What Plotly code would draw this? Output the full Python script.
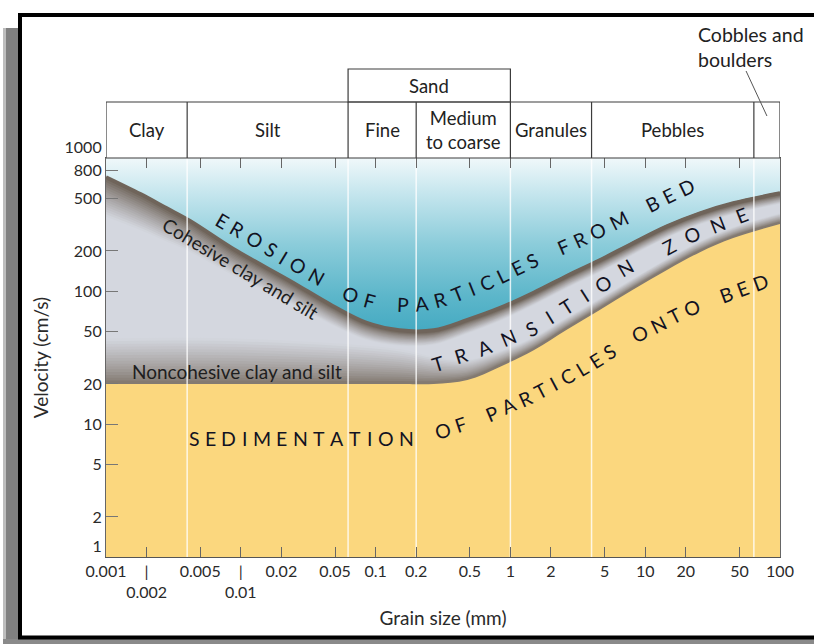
import math
import numpy as np
import plotly.graph_objects as go

# ---------------- data ----------------
grain_erosion = [0.001, 0.0018, 0.0028, 0.0042, 0.0088, 0.023, 0.048, 0.086, 0.15, 0.27,
                 0.48, 0.84, 1.5, 2.6, 4.6, 8.1, 14.5, 25.5, 45, 100]
vel_erosion = [733, 546, 428, 342, 210, 121, 78, 58, 51, 51,
               61, 75, 98, 130, 171, 230, 308, 386, 459, 546]

grain_deposit = [0.001, 0.01, 0.15, 0.27, 0.48, 0.84, 1.5, 2.6, 4.6,
                 8.1, 14.5, 25.5, 45, 100]
vel_deposit = [20, 20, 20, 20, 21.4, 27, 36, 51, 72,
               102, 144, 196, 250, 319]

class_bounds = [0.001, 0.004, 0.0625, 0.2, 1, 4, 64, 100]
class_labels = ["Clay", "Silt", "Fine", "Medium<br>to coarse", "Granules", "Pebbles", ""]
sand_bounds = [0.0625, 1]
sand_label = "Sand"
divider_bounds = [0.004, 0.0625, 0.2, 1, 4, 64]

x_tickvals = [0.001, 0.002, 0.005, 0.01, 0.02, 0.05, 0.1, 0.2, 0.5, 1, 2, 5, 10, 20, 50, 100]
x_ticktext = ["0.001", "|<br>0.002", "0.005", "|<br>0.01", "0.02", "0.05", "0.1", "0.2",
              "0.5", "1", "2", "5", "10", "20", "50", "100"]
y_tickvals = [1, 2, 5, 10, 20, 50, 100, 200, 500, 800, 1000]
y_ticktext = ["1<br> ", "2", "5", "10", "20", "50", "100", "200", "500", "800", "1000<br> "]

# ---------------- layout geometry ----------------
W, H = 814, 644
ML, MR, MT, MB = 106, 34, 158, 87
PW = W - ML - MR
PH = H - MT - MB
XR = (-3, 2)
YR = (0, 3)
FONT = "Lato"

def shift(v, dpx):
    """move a velocity value up (dpx>0) or down (dpx<0) by dpx screen pixels"""
    return v * 10 ** (dpx * (YR[1] - YR[0]) / PH)

def mix(c1, c2, t):
    return "rgb(%d,%d,%d)" % tuple(round(a + (b - a) * t) for a, b in zip(c1, c2))

def ppx(px):
    return (px - ML) / PW

def ppy(py):
    return (MT + PH - py) / PH

fig = go.Figure()

# erosion region (gradient, above the erosion curve)
fig.add_trace(go.Scatter(x=grain_erosion, y=[1000] * len(grain_erosion), mode="lines",
                         line=dict(width=0, color="rgba(0,0,0,0)"), hoverinfo="skip", showlegend=False))
fig.add_trace(go.Scatter(
    x=grain_erosion, y=vel_erosion, mode="lines", fill="tonexty",
    line=dict(width=0, color="rgba(0,0,0,0)", shape="spline", smoothing=1),
    fillgradient=dict(type="vertical",
                      colorscale=[[0, "#45aac2"], [0.2, "#5cb6ca"], [0.5, "#8bccda"],
                                  [0.8, "#c6e6ee"], [1, "#f0f8fa"]]),
    hoverinfo="skip", showlegend=False, name="Erosion"))

# transition zone (between the two curves)
fig.add_trace(go.Scatter(
    x=grain_deposit, y=vel_deposit, mode="lines", fill="tonexty", fillcolor="#d4d7df",
    line=dict(width=0, color="rgba(0,0,0,0)", shape="spline", smoothing=1),
    hoverinfo="skip", showlegend=False, name="Transition"))

light = (212, 215, 223)

# shading above the deposition curve
dark_low = (126, 116, 106)
lgd = np.log10(grain_deposit)
d_low = 9 + 36 / (1 + np.exp((lgd + 0.6) * 3.5))
NL = 16
for k in reversed(range(NL)):
    t = (k + 0.5) / NL
    yy = [shift(v, t * d) for v, d in zip(vel_deposit, d_low)]
    fig.add_trace(go.Scatter(x=grain_deposit, y=yy, mode="lines",
                             line=dict(color=mix(dark_low, light, t ** 0.8), width=4,
                                       shape="spline", smoothing=1),
                             hoverinfo="skip", showlegend=False))

# shading below the erosion curve
dark_up = (104, 92, 81)
lge = np.log10(grain_erosion)
d_up = np.interp(lge, [-3, -2, -1.2, -0.8, 0, 2], [40, 25, 17, 14, 11, 9])
NU = 16
for k in reversed(range(NU)):
    t = (k + 0.5) / NU
    yy = [shift(v, -t * d) for v, d in zip(vel_erosion, d_up)]
    fig.add_trace(go.Scatter(x=grain_erosion, y=yy, mode="lines",
                             line=dict(color=mix(dark_up, light, t ** 0.8), width=4,
                                       shape="spline", smoothing=1),
                             hoverinfo="skip", showlegend=False))

# sedimentation region
fig.add_trace(go.Scatter(x=grain_deposit, y=[1] * len(grain_deposit), mode="lines",
                         line=dict(width=0, color="rgba(0,0,0,0)"), hoverinfo="skip", showlegend=False))
fig.add_trace(go.Scatter(
    x=grain_deposit, y=vel_deposit, mode="lines", fill="tonexty", fillcolor="#fbd77e",
    line=dict(width=0, color="rgba(0,0,0,0)", shape="spline", smoothing=1),
    hoverinfo="skip", showlegend=False, name="Sedimentation"))

# white class boundary lines
vx, vy = [], []
for b in divider_bounds:
    vx += [b, b, None]
    vy += [1, 1000, None]
fig.add_trace(go.Scatter(x=vx, y=vy, mode="lines",
                         line=dict(color="rgba(255,255,255,0.8)", width=1.5),
                         hoverinfo="skip", showlegend=False))

# ---------------- grain-size class band ----------------
band_h = 56 / PH
sand_h = 33 / PH
shapes = []
LC = "#3c3c3c"
shapes.append(dict(type="rect", xref="x", yref="paper", x0=class_bounds[0], x1=class_bounds[-1],
                   y0=1, y1=1 + band_h, line=dict(color=LC, width=1.2), fillcolor="white", layer="above"))
for b in divider_bounds:
    shapes.append(dict(type="line", xref="x", yref="paper", x0=b, x1=b, y0=1, y1=1 + band_h,
                       line=dict(color=LC, width=1.2)))
shapes.append(dict(type="rect", xref="x", yref="paper", x0=sand_bounds[0], x1=sand_bounds[1],
                   y0=1 + band_h, y1=1 + band_h + sand_h, line=dict(color=LC, width=1.2)))
# leader line for cobbles and boulders
shapes.append(dict(type="line", xref="x", yref="paper", x0=56, x1=80,
                   y0=ppy(71), y1=ppy(116), line=dict(color="#555", width=1)))

# picture frame
shapes.append(dict(type="rect", xref="paper", yref="paper", x0=ppx(3), x1=ppx(19),
                   y0=ppy(644), y1=ppy(28), line=dict(width=0), fillcolor="#808080"))
shapes.append(dict(type="rect", xref="paper", yref="paper", x0=ppx(3), x1=ppx(6),
                   y0=ppy(644), y1=ppy(28), line=dict(width=0), fillcolor="#bdbdbd"))
shapes.append(dict(type="rect", xref="paper", yref="paper", x0=ppx(3), x1=ppx(830),
                   y0=ppy(648), y1=ppy(639), line=dict(width=0), fillcolor="#8a8a8a"))
shapes.append(dict(type="rect", xref="paper", yref="paper", x0=ppx(20), x1=ppx(830),
                   y0=ppy(637.5), y1=ppy(15), line=dict(color="black", width=4)))

annotations = []
for i, lab in enumerate(class_labels):
    if not lab:
        continue
    gm = 0.5 * (math.log10(class_bounds[i]) + math.log10(class_bounds[i + 1]))
    annotations.append(dict(x=gm, y=1 + band_h / 2, xref="x", yref="paper", text=lab,
                            showarrow=False, font=dict(family=FONT, size=18.5, color="#222"),
                            xanchor="center", yanchor="middle"))
gm = 0.5 * (math.log10(sand_bounds[0]) + math.log10(sand_bounds[1]))
annotations.append(dict(x=gm, y=1 + band_h + sand_h / 2, xref="x", yref="paper", text=sand_label,
                        showarrow=False, font=dict(family=FONT, size=18.5, color="#222"),
                        xanchor="center", yanchor="middle"))
annotations.append(dict(x=ppx(696), y=ppy(47), xref="paper", yref="paper",
                        text="Cobbles and<br>boulders", align="left", showarrow=False,
                        font=dict(family=FONT, size=19.5, color="#222"),
                        xanchor="left", yanchor="middle"))

# ---------------- in-chart labels ----------------
annotations.append(dict(x=ppx(237), y=ppy(371), xref="paper", yref="paper",
                        text="Noncohesive clay and silt", showarrow=False,
                        font=dict(family=FONT, size=19, color="#1e1e1e"),
                        xanchor="center", yanchor="middle"))
annotations.append(dict(x=ppx(241), y=ppy(268), xref="paper", yref="paper",
                        text="Cohesive clay and silt", showarrow=False, textangle=31,
                        font=dict(family=FONT, size=19, color="#1e1e1e"),
                        xanchor="center", yanchor="middle"))

CAPW = {"A": .68, "B": .64, "C": .66, "D": .73, "E": .56, "F": .53, "I": .29, "L": .49,
        "M": .88, "N": .75, "O": .79, "P": .60, "R": .63, "S": .53, "T": .58, "Z": .61, " ": .55}

def curved_text(text, path, size=19.5, color="#121222"):
    pts = np.array(path, dtype=float)
    seg = np.hypot(np.diff(pts[:, 0]), np.diff(pts[:, 1]))
    cum = np.concatenate([[0], np.cumsum(seg)])
    total = cum[-1]
    w = [CAPW[c] * size for c in text]
    base = sum((w[i] + w[i + 1]) / 2 for i in range(len(text) - 1))
    track = (total - base) / (len(text) - 1)

    def at(s):
        s = min(max(s, 0), total)
        return np.interp(s, cum, pts[:, 0]), np.interp(s, cum, pts[:, 1])

    s = 0.0
    for i, ch in enumerate(text):
        if i > 0:
            s += (w[i - 1] + w[i]) / 2 + track
        if ch == " ":
            continue
        x, y = at(s)
        xa, ya = at(s - 8)
        xb, yb = at(s + 8)
        ang = math.degrees(math.atan2(yb - ya, xb - xa))
        annotations.append(dict(x=ppx(x), y=ppy(y), xref="paper", yref="paper", text=ch,
                                showarrow=False, textangle=ang,
                                font=dict(family=FONT, size=size, color=color),
                                xanchor="center", yanchor="middle"))

curved_text("EROSION OF PARTICLES FROM BED",
            [(222, 220), (253, 238), (283, 257), (317, 277), (352, 295), (373, 302), (407, 305),
             (427, 303), (445, 299), (490, 281), (540, 257), (580, 240), (620, 220), (655, 202),
             (686, 187)])
curved_text("TRANSITION ZONE",
            [(438, 363), (480, 350), (532, 328), (562, 310), (598, 287), (625, 268), (662, 250),
             (690, 235), (741, 215)])
curved_text("SEDIMENTATION OF PARTICLES ONTO BED",
            [(194, 438), (300, 438), (414, 438), (440, 431), (462, 424), (488, 415), (537, 393),
             (580, 370), (610, 351), (635, 336), (693, 307), (725, 295), (760, 282)])

fig.update_layout(
    width=W, height=H,
    margin=dict(l=ML, r=MR, t=MT, b=MB, autoexpand=False),
    paper_bgcolor="white", plot_bgcolor="white",
    font=dict(family=FONT, size=16, color="#2a2a2a"),
    shapes=shapes, annotations=annotations, showlegend=False,
    xaxis=dict(type="log", range=list(XR), tickvals=x_tickvals, ticktext=x_ticktext,
               ticks="inside", ticklen=10, tickcolor="#666", tickwidth=1.2,
               showline=True, linecolor="#555", linewidth=1.2, mirror="ticks",
               showgrid=False, zeroline=False, tickangle=0,
               tickfont=dict(family=FONT, size=16, color="#2a2a2a"),
               title=dict(text="Grain size (mm)", font=dict(family=FONT, size=19, color="#2a2a2a"),
                          standoff=11)),
    yaxis=dict(type="log", range=list(YR), tickvals=y_tickvals, ticktext=y_ticktext,
               ticks="inside", ticklen=12, tickcolor="#777", tickwidth=1.2,
               showline=True, linecolor="#666", linewidth=1.2, mirror=True,
               showgrid=False, zeroline=False,
               tickfont=dict(family=FONT, size=16, color="#2a2a2a"),
               title=dict(text="Velocity (cm/s)", font=dict(family=FONT, size=19, color="#2a2a2a"),
                          standoff=10)),
)

fig.write_html("out.html", config={"displayModeBar": False},
               post_script="document.body.style.margin='0';")
